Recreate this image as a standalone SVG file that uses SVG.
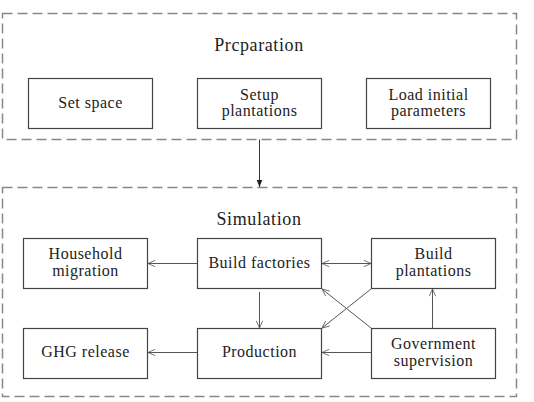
<svg xmlns="http://www.w3.org/2000/svg" width="534" height="402" viewBox="0 0 534 402">
<defs>
<style>
.grp{fill:none;stroke:#888;stroke-width:1.5;stroke-dasharray:10 5}
.box{fill:#fff;stroke:#444;stroke-width:1.2}
.t{font-family:"Liberation Serif","Times New Roman",serif;font-size:16px;fill:#222;text-anchor:middle;letter-spacing:0.5px}
.title{font-family:"Liberation Serif","Times New Roman",serif;font-size:18px;fill:#222;text-anchor:middle;letter-spacing:0.6px}
.c{fill:none;stroke:#555;stroke-width:1}
</style>
<marker id="open" viewBox="0 0 10 10" refX="10" refY="5" markerWidth="8" markerHeight="8" orient="auto-start-reverse" markerUnits="userSpaceOnUse">
<path d="M1,1 L10,5 L1,9" fill="none" stroke="#555" stroke-width="1"/>
</marker>
<marker id="solid" viewBox="0 0 10 10" refX="10" refY="5" markerWidth="7" markerHeight="7" orient="auto" markerUnits="userSpaceOnUse">
<path d="M0,1 L10,5 L0,9 Z" fill="#222"/>
</marker>
</defs>

<g id="preparation">
<rect class="grp" x="2.5" y="13.5" width="514" height="126"/>
<text class="title" x="259" y="51">Prcparation</text>
</g>
<g id="set-space">
<rect class="box" x="28.5" y="78.5" width="124" height="50"/>
<text class="t" x="90.5" y="108">Set space</text>
</g>
<g id="setup-plantations">
<rect class="box" x="197.5" y="78.5" width="124" height="50"/>
<text class="t" x="259.5" y="100">Setup</text>
<text class="t" x="259.5" y="116">plantations</text>
</g>
<g id="load-parameters">
<rect class="box" x="366.5" y="78.5" width="124" height="50"/>
<text class="t" x="428.5" y="100">Load initial</text>
<text class="t" x="428.5" y="116">parameters</text>
</g>

<g id="simulation">
<rect class="grp" x="2.5" y="187.5" width="514" height="209"/>
<text class="title" x="259" y="225">Simulation</text>
</g>
<g id="household-migration">
<rect class="box" x="23.5" y="238.5" width="124" height="50"/>
<text class="t" x="85.5" y="259">Household</text>
<text class="t" x="85.5" y="276">migration</text>
</g>
<g id="build-factories">
<rect class="box" x="197.5" y="238.5" width="124" height="50"/>
<text class="t" x="259.5" y="268">Build factories</text>
</g>
<g id="build-plantations">
<rect class="box" x="371.5" y="238.5" width="124" height="50"/>
<text class="t" x="433.5" y="259">Build</text>
<text class="t" x="433.5" y="276">plantations</text>
</g>
<g id="ghg-release">
<rect class="box" x="23.5" y="328.5" width="124" height="50"/>
<text class="t" x="85.5" y="357">GHG release</text>
</g>
<g id="production">
<rect class="box" x="197.5" y="328.5" width="124" height="50"/>
<text class="t" x="259.5" y="357">Production</text>
</g>
<g id="government-supervision">
<rect class="box" x="371.5" y="328.5" width="124" height="50"/>
<text class="t" x="433.5" y="349">Government</text>
<text class="t" x="433.5" y="366">supervision</text>
</g>

<g id="connectors">
<line x1="259.5" y1="139.5" x2="259.5" y2="187" stroke="#333" stroke-width="1" marker-end="url(#solid)"/>
<line class="c" x1="197" y1="263.5" x2="148" y2="263.5" marker-end="url(#open)"/>
<line class="c" x1="322" y1="263.5" x2="371" y2="263.5" marker-start="url(#open)" marker-end="url(#open)"/>
<line class="c" x1="259.5" y1="292" x2="259.5" y2="328" marker-end="url(#open)"/>
<line class="c" x1="197" y1="352.5" x2="148" y2="352.5" marker-end="url(#open)"/>
<line class="c" x1="371" y1="352.5" x2="322" y2="352.5" marker-end="url(#open)"/>
<line class="c" x1="432.5" y1="328" x2="432.5" y2="289" marker-end="url(#open)"/>
<line class="c" x1="371" y1="328" x2="322" y2="289" marker-end="url(#open)"/>
<line class="c" x1="371" y1="289" x2="322" y2="328" marker-end="url(#open)"/>
</g>
</svg>
